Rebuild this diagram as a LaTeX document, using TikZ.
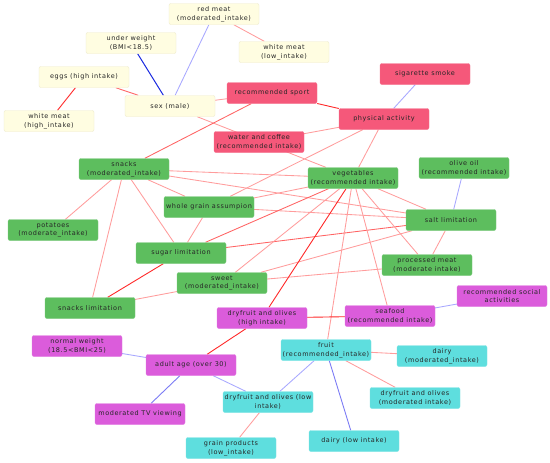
\documentclass[tikz,border=0pt]{standalone}
\usepackage{fontspec}
\setmainfont{DejaVu Sans}[LetterSpace=9.0]
\usetikzlibrary{backgrounds}
\definecolor{yelF}{HTML}{FFFDE1}
\definecolor{yelD}{HTML}{EEEBCB}
\definecolor{pinkF}{HTML}{F5587A}
\definecolor{greenF}{HTML}{5DBE5E}
\definecolor{magF}{HTML}{DB5CDB}
\definecolor{cyanF}{HTML}{5EDEDE}
\definecolor{txt}{HTML}{262626}
\definecolor{lred}{HTML}{FF9C9C}
\definecolor{mred}{HTML}{FF6363}
\definecolor{sred}{HTML}{FF2A2A}
\definecolor{lblue}{HTML}{A8A8FF}
\definecolor{mblue}{HTML}{7C7CF5}
\definecolor{sblue}{HTML}{1A2AE0}
\tikzset{
  box/.style={rectangle, rounded corners=2pt, minimum width=90pt, minimum height=21pt,
    inner sep=0pt, align=center, text=txt, font=\fontsize{6.5}{8.8}\selectfont},
  yel/.style={box, fill=yelF, draw=yelD, line width=0.4pt},
  pnk/.style={box, fill=pinkF, draw=pinkF!85!white, line width=0.4pt},
  grn/.style={box, fill=greenF, draw=greenF!80!white, line width=0.4pt},
  mag/.style={box, fill=magF, draw=magF!80!white, line width=0.4pt},
  cyn/.style={box, fill=cyanF, draw=cyanF!80!white, line width=0.4pt},
  el/.style={draw=lred, line width=0.85pt},
  em/.style={draw=mred, line width=0.85pt},
  es/.style={draw=sred, line width=0.9pt},
  bl/.style={draw=lblue, line width=0.85pt},
  bm/.style={draw=mblue, line width=0.9pt},
  bs/.style={draw=sblue, line width=1pt},
}
\begin{document}
\begin{tikzpicture}[x=1pt,y=-1pt]
\useasboundingbox (0,0) rectangle (550,463);
% yellow
\node[yel] (redmeat) at (214,14) {red meat\\(moderated\_intake)};
\node[yel] (under) at (131,43) {under weight\\(BMI<18.5)};
\node[yel] (wmlow) at (284,52) {white meat\\(low\_intake)};
\node[yel] (eggs) at (84,77) {eggs (high intake)};
\node[yel] (sex) at (170,106) {sex (male)};
\node[yel] (wmhigh) at (49,121) {white meat\\(high\_intake)};
% pink
\node[pnk] (sport) at (272,93) {recommended sport};
\node[pnk] (smoke) at (425,74) {sigarette smoke};
\node[pnk] (pa) at (384,119) {physical activity};
\node[pnk] (water) at (259,142) {water and coffee\\(recommended intake)};
% green
\node[grn] (snacks) at (124,169) {snacks\\(moderated\_intake)};
\node[grn] (veg) at (353,178) {vegetables\\(recommended intake)};
\node[grn] (olive) at (464,168) {olive oil\\(recommended intake)};
\node[grn] (wgrain) at (209,207) {whole grain assumpion};
\node[grn] (potato) at (53,230) {potatoes\\(moderate\_intake)};
\node[grn] (salt) at (451,220) {salt limitation};
\node[grn] (sugar) at (181,253) {sugar limitation};
\node[grn] (proc) at (427,265) {processed meat\\(moderate intake)};
\node[grn] (sweet) at (222,283) {sweet\\(moderated\_intake)};
\node[grn] (snlim) at (90,308) {snacks limitation};
% magenta
\node[mag] (social) at (502,296) {recommended social\\activities};
\node[mag] (dfhigh) at (262,318) {dryfruit and olives\\(high intake)};
\node[mag] (seafood) at (390,316) {seafood\\(recommended intake)};
\node[mag] (normal) at (77,346) {normal weight\\(18.5<BMI<25)};
\node[mag] (adult) at (191,365) {adult age (over 30)};
\node[mag] (tv) at (140,414) {moderated TV viewing};
% cyan
\node[cyn] (fruit) at (326,350) {fruit\\(recommended\_intake)};
\node[cyn] (dairymod) at (442,356) {dairy\\(moderated\_intake)};
\node[cyn] (dflow) at (268,402) {dryfruit and olives (low\\intake)};
\node[cyn] (dfmod) at (415,398) {dryfruit and olives\\(moderated intake)};
\node[cyn] (grain) at (231,448) {grain products\\(low\_intake)};
\node[cyn] (dairylow) at (354,441) {dairy (low intake)};
\begin{scope}[on background layer]
\fill[white] (0,0) rectangle (550,463);
\path[bl] (redmeat) -- (sex);
\path[bs] (under) -- (sex);
\path[el] (redmeat) -- (wmlow);
\path[es] (eggs) -- (wmhigh);
\path[em] (eggs) -- (sex);
\path[el] (sex) -- (sport);
\path[el] (sex) -- (veg);
\path[es] (sport) -- (pa);
\path[em] (sport) -- (snacks);
\path[bl] (smoke) -- (pa);
\path[el] (pa) -- (water);
\path[el] (pa) -- (veg);
\path[el] (pa) -- (wgrain);
\path[el] (snacks) -- (potato);
\path[el] (snacks) -- (snlim);
\path[el] (snacks) -- (sugar);
\path[el] (snacks) -- (wgrain);
\path[el] (snacks) -- (veg);
\path[el] (snacks) -- (salt);
\path[el] (wgrain) -- (sugar);
\path[el] (wgrain) -- (salt);
\path[el] (wgrain) -- (veg);
\path[es] (sugar) -- (snlim);
\path[em] (sugar) -- (veg);
\path[em] (sugar) -- (salt);
\path[el] (sweet) -- (snlim);
\path[el] (sweet) -- (veg);
\path[el] (sweet) -- (salt);
\path[el] (sweet) -- (proc);
\path[es] (veg) -- (dfhigh);
\path[el] (veg) -- (fruit);
\path[el] (veg) -- (seafood);
\path[el] (veg) -- (proc);
\path[el] (veg) -- (salt);
\path[bl] (olive) -- (salt);
\path[el] (salt) -- (proc);
\path[es] (dfhigh) -- (seafood);
\path[es] (dfhigh) -- (adult);
\path[bl] (seafood) -- (social);
\path[bl] (normal) -- (adult);
\path[bm] (adult) -- (tv);
\path[bl] (adult) -- (dflow);
\path[bl] (fruit) -- (dflow);
\path[el] (fruit) -- (dairymod);
\path[el] (fruit) -- (dfmod);
\path[bm] (fruit) -- (dairylow);
\path[el] (dflow) -- (grain);
\end{scope}
\end{tikzpicture}
\end{document}
